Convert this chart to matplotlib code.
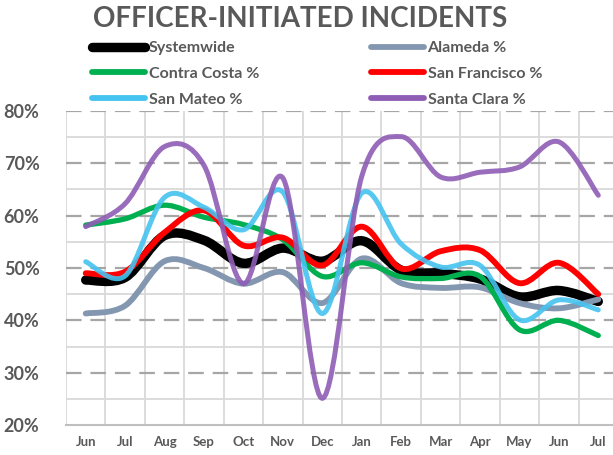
import numpy as np
import matplotlib
matplotlib.use("Agg")
import matplotlib.pyplot as plt
from matplotlib.path import Path
from matplotlib.patches import PathPatch
from matplotlib.lines import Line2D

# data (percent)
months = ["Jun", "Jul", "Aug", "Sep", "Oct", "Nov", "Dec",
          "Jan", "Feb", "Mar", "Apr", "May", "Jun", "Jul"]
systemwide    = [47.7, 48.2, 56.2, 55.3, 50.9, 53.8, 51.3, 55.2, 49.6, 49.0, 47.9, 44.5, 45.7, 43.6]
alameda       = [41.3, 42.8, 51.3, 50.0, 47.0, 49.2, 43.3, 51.8, 47.1, 46.2, 46.3, 43.3, 42.3, 44.0]
contra_costa  = [58.2, 59.4, 62.0, 59.7, 58.3, 55.4, 48.4, 51.0, 48.3, 48.0, 48.4, 38.2, 40.0, 37.1]
san_francisco = [49.0, 49.3, 56.8, 61.0, 54.3, 55.8, 50.5, 57.9, 49.9, 53.2, 53.4, 47.1, 51.0, 45.0]
san_mateo     = [51.2, 48.5, 63.5, 61.6, 57.3, 64.5, 41.3, 64.3, 54.6, 50.2, 50.5, 40.1, 43.9, 42.0]
santa_clara   = [57.9, 62.3, 73.2, 69.6, 47.0, 67.2, 25.1, 67.5, 75.1, 67.4, 68.3, 69.3, 74.1, 63.9]

series = [
    ("Systemwide", systemwide, "#000000", 6.8, 1.0),
    ("Alameda %", alameda, "#8497B0", 4.2, 1.0),
    ("Contra Costa %", contra_costa, "#00B050", 3.8, 1.0),
    ("San Francisco %", san_francisco, "#FF0000", 4.2, 1.0),
    ("San Mateo %", san_mateo, "#45C3F0", 3.6, 0.9),
    ("Santa Clara %", santa_clara, "#8E5DB5", 3.6, 0.9),
]

TXT = "#595959"
plt.rcParams["font.family"] = ["Lato", "DejaVu Sans"]
plt.rcParams["font.weight"] = "bold"


def smooth_path(xs, ys):
    # excel-style smoothed line: cubic bezier through every point
    pts = np.column_stack([xs, ys]).astype(float)
    n = len(pts)
    verts = [pts[0]]
    codes = [Path.MOVETO]
    for i in range(n - 1):
        p0 = pts[i - 1] if i > 0 else pts[i]
        p1 = pts[i]
        p2 = pts[i + 1]
        p3 = pts[i + 2] if i + 2 < n else pts[i + 1]
        verts += [p1 + (p2 - p0) / 6.0, p2 - (p3 - p1) / 6.0, p2]
        codes += [Path.CURVE4] * 3
    return Path(verts, codes)


fig = plt.figure(figsize=(6.13, 4.55), dpi=100)
ax = fig.add_axes([66 / 613, 1 - 425 / 455, 552 / 613, 314 / 455])

x = np.arange(len(months))
handles = {}
for name, vals, col, lw, a in series:
    patch = PathPatch(smooth_path(x, vals), fill=False, edgecolor=col, lw=lw,
                      alpha=a, capstyle="round", joinstyle="round", zorder=3)
    ax.add_patch(patch)
    handles[name] = Line2D([], [], color=col, lw=max(lw, 4.2), solid_capstyle="round")

ax.set_xlim(-0.5, len(months) - 0.5)
ax.set_ylim(20, 80)

# grid: light solid verticals + 5% minor, dashed 10% majors
for xb in np.arange(-0.5, len(months), 1.0):
    ax.axvline(xb, color="#D9D9D9", lw=1.3, zorder=1)
for yv in np.arange(25, 80, 10):
    ax.axhline(yv, color="#D9D9D9", lw=1.3, zorder=1)
for yv in np.arange(30, 81, 10):
    ax.axhline(yv, color="#A6A6A6", lw=1.6, dashes=(7, 4), zorder=2)

ax.set_xticks(x)
ax.set_xticklabels(months, fontsize=9.5, color=TXT, fontweight="bold")
ax.set_yticks(np.arange(20, 81, 10))
ax.set_yticklabels([f"{v}%" for v in range(20, 81, 10)], fontsize=13,
                   color=TXT, fontweight="bold")
ax.tick_params(length=0, pad=8)
ax.tick_params(axis="y", pad=19)
for s in ["top", "right", "left"]:
    ax.spines[s].set_visible(False)
ax.spines["bottom"].set_color("#BFBFBF")
ax.spines["bottom"].set_linewidth(1.5)

fig.text(300 / 613, 1 - 19 / 455, "OFFICER-INITIATED INCIDENTS", ha="center", va="center",
         fontsize=20, fontweight="bold", color=TXT)

order = ["Systemwide", "Contra Costa %", "San Mateo %",
         "Alameda %", "San Francisco %", "Santa Clara %"]
leg = fig.legend([handles[k] for k in order], order, ncol=2,
                 loc="upper left", bbox_to_anchor=(92 / 613, 1 - 41 / 455),
                 frameon=False, fontsize=11.5, handlelength=3.3,
                 handletextpad=0.25, columnspacing=7.0, labelspacing=0.72,
                 borderaxespad=0, borderpad=0)
for t in leg.get_texts():
    t.set_color(TXT)
    t.set_fontweight("bold")

fig.savefig("out.png", dpi=100)
